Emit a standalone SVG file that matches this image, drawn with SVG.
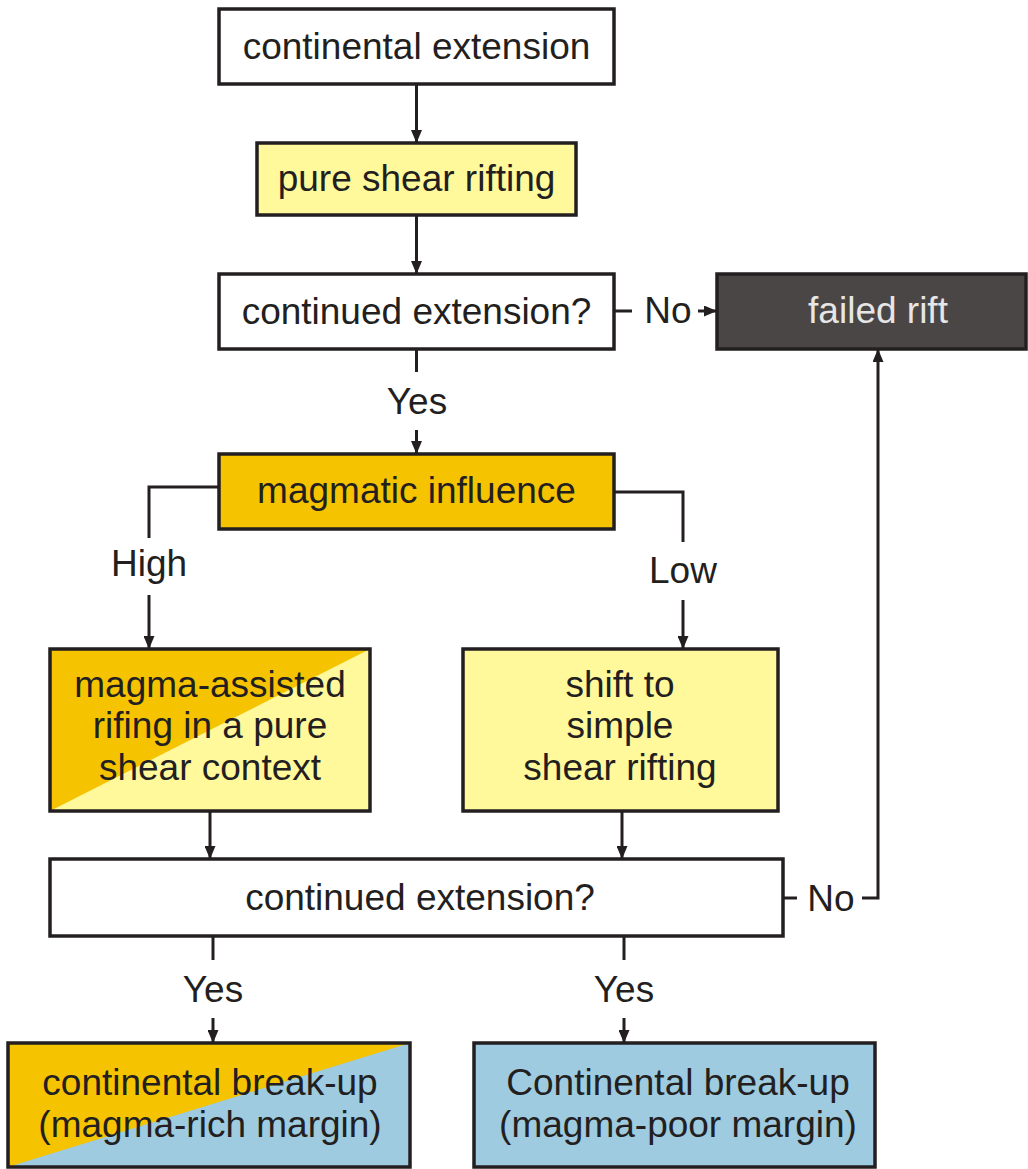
<svg xmlns="http://www.w3.org/2000/svg" width="1028" height="1169" viewBox="0 0 1028 1169">
<defs>
<style>
.box{stroke:#231f20;stroke-width:3.5;}
.edge{fill:none;stroke:#231f20;stroke-width:3;}
.t{font-family:"Liberation Sans",Arial,Helvetica,sans-serif;font-size:37px;fill:#231f20;text-anchor:middle;}
.white{fill:#ffffff;}
.pale{fill:#fff99c;}
.orange{fill:#f6c300;}
.blue{fill:#9ecbe0;}
.dark{fill:#4b4646;}
</style>
<marker id="ah" viewBox="0 0 13 11" markerWidth="13" markerHeight="11" refX="13" refY="5.5" orient="auto" markerUnits="userSpaceOnUse">
<path d="M0,0 L13,5.5 L0,11 z" fill="#231f20"/>
</marker>
</defs>
<rect width="1028" height="1169" fill="#ffffff"/>

<g id="connectors">
<line class="edge" x1="416.5" y1="84" x2="416.5" y2="143" marker-end="url(#ah)"/>
<line class="edge" x1="416.5" y1="215" x2="416.5" y2="274" marker-end="url(#ah)"/>
<line class="edge" x1="416.5" y1="349" x2="416.5" y2="372"/>
<text class="t" x="417" y="414">Yes</text>
<line class="edge" x1="416.5" y1="430" x2="416.5" y2="454" marker-end="url(#ah)"/>
<line class="edge" x1="613" y1="311" x2="632" y2="311"/>
<text class="t" x="668" y="323">No</text>
<line class="edge" x1="698" y1="311" x2="717" y2="311" marker-end="url(#ah)"/>
<polyline class="edge" points="219,487 149,487 149,538"/>
<text class="t" x="149" y="576">High</text>
<line class="edge" x1="149" y1="595" x2="149" y2="649" marker-end="url(#ah)"/>
<polyline class="edge" points="614,492 683,492 683,542"/>
<text class="t" x="683" y="583">Low</text>
<line class="edge" x1="683" y1="600" x2="683" y2="649" marker-end="url(#ah)"/>
<line class="edge" x1="210" y1="811" x2="210" y2="859" marker-end="url(#ah)"/>
<line class="edge" x1="622" y1="811" x2="622" y2="859" marker-end="url(#ah)"/>
<line class="edge" x1="783" y1="898" x2="797" y2="898"/>
<text class="t" x="831" y="911">No</text>
<polyline class="edge" points="862,898 878,898 878,349" marker-end="url(#ah)"/>
<line class="edge" x1="213" y1="936" x2="213" y2="960"/>
<text class="t" x="213" y="1002">Yes</text>
<line class="edge" x1="213" y1="1018" x2="213" y2="1043" marker-end="url(#ah)"/>
<line class="edge" x1="624" y1="936" x2="624" y2="960"/>
<text class="t" x="624" y="1002">Yes</text>
<line class="edge" x1="624" y1="1018" x2="624" y2="1043" marker-end="url(#ah)"/>
</g>

<g id="n1">
<rect class="box white" x="219" y="9" width="395" height="75"/>
<text class="t" x="416.5" y="59">continental extension</text>
</g>
<g id="n2">
<rect class="box pale" x="257" y="143" width="319" height="72"/>
<text class="t" x="416.5" y="191">pure shear rifting</text>
</g>
<g id="n3">
<rect class="box white" x="219" y="274" width="395" height="75"/>
<text class="t" x="416.5" y="324">continued extension?</text>
</g>
<g id="n4">
<rect class="box dark" x="717" y="274" width="309" height="75"/>
<text class="t" x="878" y="323" style="fill:#e6e6e6">failed rift</text>
</g>
<g id="n5">
<rect class="box orange" x="219" y="454" width="395" height="75"/>
<text class="t" x="416.5" y="503">magmatic influence</text>
</g>
<g id="n6">
<rect class="pale" x="50" y="649" width="320" height="162"/>
<polygon class="orange" points="50,649 370,649 50,811"/>
<rect class="box" x="50" y="649" width="320" height="162" fill="none"/>
<text class="t" x="210" y="697">magma-assisted</text>
<text class="t" x="210" y="738">rifing in a pure</text>
<text class="t" x="210" y="780">shear context</text>
</g>
<g id="n7">
<rect class="box pale" x="463" y="649" width="315" height="162"/>
<text class="t" x="620" y="697">shift to</text>
<text class="t" x="620" y="738">simple</text>
<text class="t" x="620" y="780">shear rifting</text>
</g>
<g id="n8">
<rect class="box white" x="50" y="859" width="733" height="77"/>
<text class="t" x="420" y="910">continued extension?</text>
</g>
<g id="n9">
<rect class="blue" x="8" y="1043" width="402" height="124"/>
<polygon class="orange" points="8,1043 410,1043 8,1167"/>
<rect class="box" x="8" y="1043" width="402" height="124" fill="none"/>
<text class="t" x="210" y="1095">continental break-up</text>
<text class="t" x="210" y="1137">(magma-rich margin)</text>
</g>
<g id="n10">
<rect class="box blue" x="474" y="1043" width="401" height="124"/>
<text class="t" x="678" y="1095">Continental break-up</text>
<text class="t" x="678" y="1137">(magma-poor margin)</text>
</g>
</svg>
